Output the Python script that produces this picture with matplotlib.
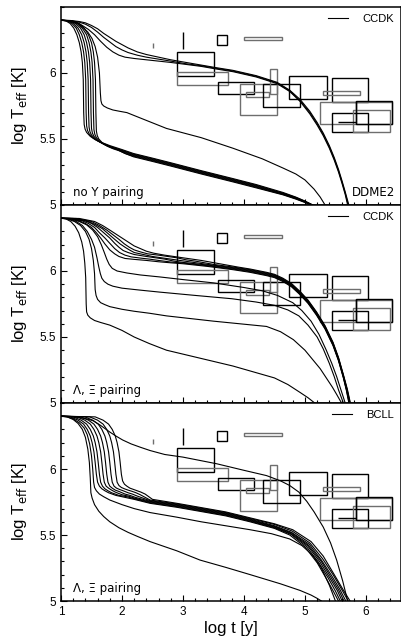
import matplotlib
matplotlib.use("Agg")
import matplotlib.pyplot as plt
from matplotlib.patches import Rectangle
from matplotlib.ticker import MultipleLocator

plt.rcParams['font.family'] = ['Liberation Sans', 'DejaVu Sans']

# ---- observed sources: log t range, log Teff range (same in every panel)
obs_t_lo = [2.91, 2.91, 3.57, 3.93, 4.04, 4.32, 4.42, 4.74, 5.44, 5.30, 5.24, 5.83, 5.44, 5.79, 3.56, 4.00, 2.51, 3.00, 5.55, 5.83]
obs_t_hi = [3.51, 3.74, 4.17, 4.54, 4.41, 4.92, 4.54, 5.36, 6.04, 5.91, 6.43, 6.43, 6.04, 6.39, 3.73, 4.62, 2.51, 3.00, 5.83, 5.83]
obs_T_lo = [5.98, 5.91, 5.84, 5.68, 5.82, 5.74, 5.84, 5.80, 5.78, 5.83, 5.61, 5.61, 5.55, 5.55, 6.21, 6.25, 6.19, 6.18, 5.63, 5.61]
obs_T_hi = [6.16, 6.01, 5.93, 5.92, 5.855, 5.92, 6.03, 5.98, 5.96, 5.86, 5.78, 5.79, 5.70, 5.72, 6.29, 6.27, 6.23, 6.31, 5.63, 5.79]
obs_grey = [False, True, False, True, True, False, True, False, False, True, True, False, False, True, False, True, True, False, False, False]

# ---- panel 1: DDME2, no hyperon pairing (CCDK)
noY_t = [
    [1.0, 1.15, 1.3, 1.4, 1.5, 1.6, 1.7, 1.8, 1.9, 2.0, 2.1, 2.25, 2.4, 2.6, 2.8, 3.05, 3.3, 3.55, 3.82, 4.2, 4.54, 4.75, 4.92, 5.08, 5.2, 5.3, 5.4, 5.48, 5.55, 5.61, 5.66, 5.72],
    [1.0, 1.15, 1.3, 1.4, 1.5, 1.6, 1.7, 1.8, 1.9, 2.0, 2.1, 2.25, 2.4, 2.6, 2.8, 3.05, 3.3, 3.55, 3.82, 4.2, 4.54, 4.75, 4.92, 5.08, 5.2, 5.3, 5.4, 5.48, 5.55, 5.61, 5.66, 5.71],
    [1.0, 1.15, 1.25, 1.35, 1.45, 1.55, 1.65, 1.75, 1.85, 1.95, 2.05, 2.2, 2.4, 2.6, 2.8, 3.05, 3.3, 3.55, 3.82, 4.2, 4.54, 4.75, 4.92, 5.08, 5.2, 5.3, 5.4, 5.48, 5.55, 5.61, 5.66, 5.70],
    [1.0, 1.08, 1.15, 1.21, 1.26, 1.30, 1.33, 1.35, 1.365, 1.372, 1.38, 1.395, 1.42, 1.48, 1.56, 1.66, 1.8, 2.0, 2.19, 2.5, 2.8, 3.3, 3.82, 4.2, 4.64, 4.85, 5.0, 5.13],
    [1.0, 1.1, 1.18, 1.25, 1.30, 1.34, 1.37, 1.39, 1.405, 1.412, 1.42, 1.435, 1.46, 1.52, 1.60, 1.70, 1.82, 2.0, 2.19, 2.5, 2.8, 3.3, 3.82, 4.2, 4.64, 4.85, 5.0, 5.125],
    [1.0, 1.12, 1.21, 1.28, 1.34, 1.38, 1.41, 1.43, 1.445, 1.452, 1.46, 1.475, 1.50, 1.56, 1.64, 1.74, 1.85, 2.0, 2.19, 2.5, 2.8, 3.3, 3.82, 4.2, 4.64, 4.85, 5.0, 5.12],
    [1.0, 1.14, 1.24, 1.32, 1.38, 1.42, 1.45, 1.47, 1.485, 1.492, 1.50, 1.515, 1.54, 1.60, 1.68, 1.78, 1.88, 2.0, 2.19, 2.5, 2.8, 3.3, 3.82, 4.2, 4.64, 4.85, 5.0, 5.115],
    [1.0, 1.16, 1.27, 1.35, 1.42, 1.46, 1.49, 1.51, 1.525, 1.532, 1.54, 1.555, 1.58, 1.64, 1.72, 1.82, 1.92, 2.05, 2.19, 2.5, 2.8, 3.3, 3.82, 4.2, 4.64, 4.85, 5.0, 5.11],
    [1.0, 1.18, 1.30, 1.38, 1.45, 1.50, 1.53, 1.55, 1.565, 1.572, 1.58, 1.595, 1.62, 1.68, 1.76, 1.86, 1.96, 2.08, 2.19, 2.5, 2.8, 3.3, 3.82, 4.2, 4.64, 4.85, 5.0, 5.105],
    [1.0, 1.12, 1.25, 1.35, 1.44, 1.51, 1.56, 1.60, 1.63, 1.645, 1.655, 1.67, 1.70, 1.76, 1.85, 1.96, 2.08, 2.35, 2.73, 3.3, 3.82, 4.3, 4.64, 4.85, 5.0, 5.15, 5.25, 5.33],
]
noY_T = [
    [6.40, 6.398, 6.39, 6.38, 6.36, 6.335, 6.30, 6.27, 6.24, 6.215, 6.19, 6.16, 6.14, 6.12, 6.10, 6.08, 6.06, 6.04, 6.02, 5.98, 5.93, 5.87, 5.80, 5.71, 5.625, 5.545, 5.45, 5.36, 5.27, 5.18, 5.10, 5.0],
    [6.40, 6.397, 6.385, 6.37, 6.345, 6.31, 6.27, 6.235, 6.20, 6.175, 6.155, 6.135, 6.12, 6.105, 6.09, 6.07, 6.055, 6.035, 6.015, 5.975, 5.925, 5.865, 5.79, 5.70, 5.615, 5.535, 5.44, 5.35, 5.26, 5.17, 5.09, 5.0],
    [6.40, 6.396, 6.385, 6.36, 6.33, 6.29, 6.24, 6.195, 6.16, 6.135, 6.12, 6.11, 6.10, 6.09, 6.08, 6.065, 6.05, 6.03, 6.01, 5.97, 5.92, 5.86, 5.785, 5.69, 5.605, 5.525, 5.43, 5.34, 5.25, 5.16, 5.08, 5.0],
    [6.40, 6.395, 6.375, 6.34, 6.29, 6.23, 6.16, 6.08, 5.95, 5.70, 5.61, 5.575, 5.55, 5.52, 5.495, 5.475, 5.45, 5.42, 5.39, 5.355, 5.32, 5.26, 5.20, 5.155, 5.095, 5.06, 5.03, 5.0],
    [6.40, 6.395, 6.375, 6.34, 6.29, 6.23, 6.16, 6.08, 5.95, 5.70, 5.60, 5.565, 5.54, 5.51, 5.485, 5.465, 5.44, 5.415, 5.385, 5.35, 5.315, 5.255, 5.195, 5.15, 5.09, 5.057, 5.028, 5.0],
    [6.40, 6.395, 6.375, 6.34, 6.29, 6.23, 6.16, 6.08, 5.95, 5.70, 5.59, 5.555, 5.53, 5.50, 5.475, 5.455, 5.435, 5.41, 5.38, 5.345, 5.31, 5.25, 5.19, 5.145, 5.087, 5.054, 5.026, 5.0],
    [6.40, 6.395, 6.375, 6.34, 6.29, 6.23, 6.16, 6.08, 5.95, 5.70, 5.58, 5.545, 5.52, 5.49, 5.465, 5.445, 5.43, 5.405, 5.375, 5.34, 5.305, 5.245, 5.185, 5.14, 5.083, 5.051, 5.024, 5.0],
    [6.40, 6.395, 6.375, 6.34, 6.29, 6.23, 6.16, 6.08, 5.95, 5.70, 5.57, 5.535, 5.51, 5.48, 5.455, 5.435, 5.42, 5.39, 5.37, 5.335, 5.30, 5.24, 5.18, 5.135, 5.08, 5.048, 5.021, 5.0],
    [6.40, 6.395, 6.375, 6.34, 6.29, 6.23, 6.16, 6.08, 5.95, 5.70, 5.56, 5.525, 5.50, 5.47, 5.445, 5.425, 5.41, 5.385, 5.365, 5.33, 5.295, 5.235, 5.175, 5.13, 5.077, 5.045, 5.019, 5.0],
    [6.40, 6.395, 6.38, 6.35, 6.31, 6.26, 6.20, 6.12, 6.0, 5.85, 5.79, 5.765, 5.75, 5.735, 5.72, 5.71, 5.70, 5.65, 5.58, 5.51, 5.43, 5.35, 5.28, 5.235, 5.19, 5.12, 5.06, 5.0],
]

# ---- panel 2: Lambda, Xi pairing (CCDK)
LXc_t = [
    [1.0, 1.15, 1.3, 1.4, 1.5, 1.58, 1.65, 1.72, 1.8, 1.88, 1.95, 2.05, 2.2, 2.4, 2.6, 2.8, 3.0, 3.4, 3.82, 4.1, 4.37, 4.5, 4.64, 4.78, 4.92, 5.05, 5.19, 5.33, 5.46, 5.55, 5.63, 5.68, 5.72],
    [1.0, 1.15, 1.35, 1.45, 1.55, 1.63, 1.72, 1.8, 1.88, 1.96, 2.05, 2.15, 2.3, 2.45, 2.6, 2.8, 3.0, 3.4, 3.82, 4.1, 4.37, 4.5, 4.64, 4.78, 4.92, 5.05, 5.19, 5.33, 5.46, 5.55, 5.63, 5.68, 5.725],
    [1.0, 1.2, 1.4, 1.5, 1.6, 1.7, 1.8, 1.88, 1.95, 2.02, 2.1, 2.2, 2.4, 2.55, 2.7, 2.85, 3.0, 3.4, 3.82, 4.1, 4.37, 4.5, 4.64, 4.78, 4.92, 5.05, 5.19, 5.33, 5.46, 5.55, 5.63, 5.685, 5.73],
    [1.0, 1.2, 1.45, 1.57, 1.68, 1.78, 1.88, 1.97, 2.05, 2.12, 2.2, 2.3, 2.5, 2.65, 2.8, 2.95, 3.1, 3.4, 3.82, 4.1, 4.37, 4.5, 4.64, 4.78, 4.92, 5.05, 5.19, 5.33, 5.46, 5.55, 5.63, 5.69, 5.735],
    [1.0, 1.25, 1.5, 1.63, 1.75, 1.85, 1.95, 2.04, 2.12, 2.2, 2.3, 2.42, 2.6, 2.75, 2.9, 3.05, 3.2, 3.5, 3.82, 4.1, 4.37, 4.5, 4.64, 4.78, 4.92, 5.05, 5.19, 5.33, 5.46, 5.55, 5.63, 5.69, 5.74],
    [1.0, 1.3, 1.55, 1.68, 1.8, 1.9, 2.0, 2.1, 2.2, 2.3, 2.4, 2.52, 2.7, 2.85, 3.0, 3.15, 3.3, 3.6, 3.9, 4.1, 4.37, 4.5, 4.64, 4.78, 4.92, 5.05, 5.19, 5.33, 5.46, 5.55, 5.63, 5.695, 5.745],
    [1.0, 1.15, 1.3, 1.42, 1.52, 1.6, 1.66, 1.71, 1.75, 1.79, 1.84, 1.92, 2.08, 2.3, 2.62, 3.0, 3.5, 4.0, 4.3, 4.55, 4.8, 4.95, 5.1, 5.23, 5.35, 5.44, 5.52, 5.59, 5.66],
    [1.0, 1.12, 1.25, 1.35, 1.43, 1.5, 1.55, 1.59, 1.62, 1.645, 1.67, 1.71, 1.77, 1.85, 2.0, 2.3, 2.62, 3.2, 3.8, 4.2, 4.5, 4.72, 4.9, 5.05, 5.2, 5.3, 5.4, 5.48, 5.55, 5.63],
    [1.0, 1.1, 1.22, 1.32, 1.40, 1.46, 1.50, 1.53, 1.55, 1.56, 1.575, 1.60, 1.65, 1.72, 1.8, 2.0, 2.2, 2.45, 2.73, 3.5, 4.37, 4.6, 4.81, 5.0, 5.25, 5.45, 5.52, 5.60],
    [1.0, 1.08, 1.16, 1.23, 1.29, 1.34, 1.37, 1.39, 1.405, 1.413, 1.42, 1.44, 1.48, 1.55, 1.65, 1.8, 2.0, 2.2, 2.45, 2.73, 3.82, 4.5, 4.72, 4.92, 5.05, 5.16],
]
LXc_T = [
    [6.40, 6.397, 6.38, 6.36, 6.33, 6.29, 6.25, 6.205, 6.16, 6.13, 6.11, 6.095, 6.088, 6.08, 6.07, 6.062, 6.055, 6.035, 6.01, 5.99, 5.965, 5.95, 5.92, 5.88, 5.82, 5.755, 5.665, 5.56, 5.435, 5.32, 5.19, 5.095, 5.0],
    [6.40, 6.398, 6.38, 6.36, 6.33, 6.29, 6.25, 6.21, 6.17, 6.14, 6.12, 6.107, 6.098, 6.09, 6.08, 6.068, 6.06, 6.04, 6.015, 5.995, 5.97, 5.955, 5.925, 5.885, 5.825, 5.76, 5.67, 5.565, 5.44, 5.325, 5.195, 5.10, 5.0],
    [6.40, 6.397, 6.38, 6.36, 6.33, 6.29, 6.25, 6.21, 6.18, 6.155, 6.14, 6.125, 6.11, 6.10, 6.09, 6.075, 6.065, 6.045, 6.02, 6.0, 5.975, 5.96, 5.93, 5.89, 5.83, 5.765, 5.675, 5.57, 5.445, 5.33, 5.20, 5.10, 5.0],
    [6.40, 6.398, 6.375, 6.35, 6.32, 6.28, 6.24, 6.205, 6.18, 6.16, 6.14, 6.13, 6.11, 6.10, 6.09, 6.08, 6.07, 6.05, 6.025, 6.005, 5.98, 5.965, 5.935, 5.895, 5.835, 5.77, 5.68, 5.575, 5.45, 5.335, 5.205, 5.10, 5.0],
    [6.40, 6.398, 6.375, 6.345, 6.31, 6.275, 6.24, 6.205, 6.18, 6.16, 6.145, 6.13, 6.12, 6.11, 6.10, 6.085, 6.075, 6.05, 6.03, 6.01, 5.985, 5.97, 5.94, 5.90, 5.84, 5.775, 5.685, 5.58, 5.455, 5.34, 5.21, 5.105, 5.0],
    [6.40, 6.398, 6.375, 6.345, 6.31, 6.28, 6.25, 6.22, 6.19, 6.17, 6.15, 6.135, 6.12, 6.11, 6.10, 6.09, 6.08, 6.055, 6.03, 6.015, 5.99, 5.975, 5.945, 5.905, 5.845, 5.78, 5.69, 5.585, 5.46, 5.345, 5.215, 5.105, 5.0],
    [6.40, 6.395, 6.375, 6.35, 6.31, 6.26, 6.20, 6.14, 6.09, 6.05, 6.02, 6.0, 5.985, 5.97, 5.955, 5.935, 5.91, 5.875, 5.85, 5.815, 5.76, 5.70, 5.62, 5.52, 5.40, 5.30, 5.20, 5.10, 5.0],
    [6.40, 6.395, 6.375, 6.345, 6.30, 6.24, 6.18, 6.10, 6.03, 5.98, 5.945, 5.92, 5.90, 5.885, 5.87, 5.855, 5.84, 5.815, 5.79, 5.765, 5.74, 5.705, 5.66, 5.59, 5.50, 5.41, 5.30, 5.20, 5.10, 5.0],
    [6.40, 6.395, 6.375, 6.345, 6.30, 6.24, 6.17, 6.08, 5.98, 5.86, 5.815, 5.785, 5.76, 5.745, 5.73, 5.71, 5.695, 5.68, 5.66, 5.62, 5.58, 5.54, 5.48, 5.40, 5.26, 5.12, 5.065, 5.0],
    [6.40, 6.395, 6.375, 6.34, 6.29, 6.22, 6.15, 6.06, 5.95, 5.75, 5.69, 5.665, 5.645, 5.625, 5.61, 5.59, 5.55, 5.50, 5.45, 5.40, 5.28, 5.19, 5.14, 5.08, 5.04, 5.0],
]

# ---- panel 3: Lambda, Xi pairing (BCLL)
LXb_t = [
    [1.0, 1.15, 1.3, 1.42, 1.53, 1.65, 1.8, 1.9, 2.01, 2.15, 2.3, 2.46, 2.7, 3.0, 3.55, 4.0, 4.37, 4.6, 4.75, 4.9, 5.03, 5.15, 5.3, 5.42, 5.52, 5.62, 5.70],
    [1.0, 1.15, 1.28, 1.37, 1.43, 1.48, 1.51, 1.54, 1.56, 1.58, 1.60, 1.63, 1.67, 1.72, 1.78, 1.9, 2.05, 2.2, 2.46, 2.9, 3.27, 3.7, 4.1, 4.5, 4.75, 5.0, 5.2, 5.35, 5.47, 5.55],
    [1.0, 1.2, 1.33, 1.42, 1.48, 1.53, 1.56, 1.59, 1.61, 1.63, 1.65, 1.68, 1.72, 1.77, 1.83, 1.95, 2.08, 2.2, 2.46, 2.9, 3.27, 3.7, 4.1, 4.5, 4.77, 5.02, 5.22, 5.38, 5.50, 5.58],
    [1.0, 1.26, 1.39, 1.48, 1.54, 1.59, 1.62, 1.65, 1.67, 1.69, 1.71, 1.74, 1.78, 1.83, 1.89, 2.0, 2.1, 2.2, 2.46, 2.9, 3.27, 3.7, 4.1, 4.5, 4.77, 5.04, 5.24, 5.40, 5.53, 5.61],
    [1.0, 1.32, 1.45, 1.54, 1.60, 1.65, 1.68, 1.71, 1.73, 1.75, 1.77, 1.80, 1.84, 1.89, 1.95, 2.05, 2.13, 2.22, 2.46, 2.9, 3.27, 3.7, 4.1, 4.5, 4.78, 5.05, 5.26, 5.42, 5.55, 5.64],
    [1.0, 1.39, 1.52, 1.61, 1.67, 1.72, 1.75, 1.78, 1.80, 1.82, 1.84, 1.87, 1.91, 1.96, 2.02, 2.1, 2.17, 2.25, 2.46, 2.9, 3.27, 3.7, 4.1, 4.5, 4.78, 5.07, 5.27, 5.44, 5.57, 5.67],
    [1.0, 1.47, 1.60, 1.69, 1.75, 1.80, 1.83, 1.86, 1.88, 1.90, 1.92, 1.95, 1.99, 2.04, 2.1, 2.17, 2.23, 2.3, 2.46, 2.9, 3.27, 3.7, 4.1, 4.5, 4.79, 5.08, 5.29, 5.46, 5.60, 5.71],
    [1.0, 1.56, 1.69, 1.78, 1.84, 1.89, 1.92, 1.95, 1.97, 1.99, 2.01, 2.04, 2.08, 2.13, 2.19, 2.25, 2.31, 2.38, 2.5, 2.9, 3.27, 3.7, 4.1, 4.5, 4.8, 5.1, 5.3, 5.48, 5.62, 5.74],
    [1.0, 1.1, 1.2, 1.3, 1.38, 1.43, 1.47, 1.50, 1.52, 1.535, 1.55, 1.58, 1.63, 1.70, 1.80, 2.0, 2.2, 2.46, 2.9, 3.3, 3.7, 4.1, 4.45, 4.75, 4.95, 5.12, 5.27, 5.4, 5.5],
    [1.0, 1.1, 1.2, 1.28, 1.35, 1.40, 1.44, 1.465, 1.48, 1.49, 1.51, 1.55, 1.62, 1.7, 1.8, 1.95, 2.1, 2.25, 2.46, 2.9, 3.28, 3.7, 4.1, 4.6, 4.92, 5.1, 5.2, 5.27],
]
LXb_T = [
    [6.40, 6.398, 6.39, 6.38, 6.365, 6.33, 6.28, 6.25, 6.22, 6.19, 6.165, 6.14, 6.11, 6.09, 6.04, 5.99, 5.95, 5.91, 5.875, 5.825, 5.755, 5.675, 5.56, 5.44, 5.31, 5.15, 5.0],
    [6.40, 6.395, 6.37, 6.34, 6.30, 6.25, 6.20, 6.13, 6.05, 5.96, 5.90, 5.87, 5.85, 5.835, 5.82, 5.80, 5.785, 5.77, 5.74, 5.71, 5.68, 5.645, 5.60, 5.55, 5.50, 5.41, 5.29, 5.17, 5.07, 5.0],
    [6.40, 6.395, 6.37, 6.34, 6.30, 6.25, 6.20, 6.13, 6.05, 5.96, 5.90, 5.87, 5.85, 5.835, 5.82, 5.80, 5.79, 5.775, 5.745, 5.715, 5.685, 5.65, 5.605, 5.555, 5.505, 5.415, 5.295, 5.175, 5.075, 5.0],
    [6.40, 6.395, 6.37, 6.34, 6.30, 6.25, 6.20, 6.13, 6.05, 5.96, 5.90, 5.87, 5.855, 5.84, 5.825, 5.805, 5.795, 5.78, 5.75, 5.72, 5.69, 5.655, 5.61, 5.56, 5.51, 5.42, 5.30, 5.18, 5.08, 5.0],
    [6.40, 6.395, 6.37, 6.34, 6.30, 6.25, 6.20, 6.13, 6.05, 5.96, 5.90, 5.87, 5.855, 5.84, 5.83, 5.81, 5.80, 5.785, 5.755, 5.725, 5.695, 5.66, 5.615, 5.565, 5.515, 5.425, 5.305, 5.185, 5.085, 5.0],
    [6.40, 6.395, 6.37, 6.34, 6.30, 6.25, 6.20, 6.13, 6.05, 5.96, 5.90, 5.87, 5.855, 5.845, 5.835, 5.82, 5.81, 5.795, 5.76, 5.73, 5.70, 5.665, 5.62, 5.57, 5.52, 5.43, 5.31, 5.19, 5.09, 5.0],
    [6.40, 6.395, 6.37, 6.34, 6.30, 6.25, 6.20, 6.13, 6.05, 5.96, 5.90, 5.875, 5.86, 5.85, 5.84, 5.83, 5.82, 5.805, 5.765, 5.735, 5.705, 5.67, 5.625, 5.58, 5.53, 5.44, 5.32, 5.20, 5.09, 5.0],
    [6.40, 6.395, 6.37, 6.34, 6.30, 6.25, 6.20, 6.13, 6.05, 5.96, 5.91, 5.885, 5.87, 5.855, 5.845, 5.835, 5.825, 5.81, 5.77, 5.74, 5.71, 5.675, 5.63, 5.585, 5.54, 5.45, 5.34, 5.20, 5.09, 5.0],
    [6.40, 6.395, 6.38, 6.35, 6.31, 6.26, 6.19, 6.10, 6.0, 5.90, 5.86, 5.835, 5.81, 5.79, 5.765, 5.73, 5.70, 5.67, 5.635, 5.60, 5.57, 5.54, 5.51, 5.47, 5.42, 5.35, 5.25, 5.12, 5.0],
    [6.40, 6.395, 6.375, 6.345, 6.30, 6.24, 6.15, 6.05, 5.93, 5.82, 5.78, 5.73, 5.68, 5.64, 5.60, 5.555, 5.52, 5.49, 5.45, 5.38, 5.31, 5.255, 5.20, 5.13, 5.08, 5.045, 5.02, 5.0],
]

panel_t = [noY_t, LXc_t, LXb_t]
panel_T = [noY_T, LXc_T, LXb_T]
legend_labels = ['CCDK', 'CCDK', 'BCLL']
panel_notes = ['no Y pairing', '\u039b, \u039e pairing', '\u039b, \u039e pairing']

fig = plt.figure(figsize=(4.02, 6.37), dpi=100)
left, width = 61 / 402, 340 / 402
h = 198 / 637
bottom0 = 1 - 601 / 637

for i in range(3):
    ax = fig.add_axes([left, bottom0 + (2 - i) * h, width, h])
    for tt, TT in zip(panel_t[i], panel_T[i]):
        ax.plot(tt, TT, color='black', lw=0.8)

    for k in range(len(obs_t_lo)):
        col = '#6e6e6e' if obs_grey[k] else 'black'
        ax.add_patch(Rectangle((obs_t_lo[k], obs_T_lo[k]),
                               obs_t_hi[k] - obs_t_lo[k], obs_T_hi[k] - obs_T_lo[k],
                               fill=False, edgecolor=col, lw=1.0))

    ax.plot([], [], color='black', lw=0.8, label=legend_labels[i])
    ax.legend(loc='upper right', frameon=False, fontsize=8, handlelength=1.8,
              borderaxespad=0.2, handletextpad=1.3)

    ax.text(0.035, 0.065, panel_notes[i], transform=ax.transAxes, fontsize=8.5,
            family='DejaVu Sans', va='center', ha='left')
    if i == 0:
        ax.text(0.984, 0.065, 'DDME2', transform=ax.transAxes, fontsize=8.5,
                family='DejaVu Sans', va='center', ha='right')

    ax.set_xlim(1, 6.575)
    ax.set_ylim(5, 6.5)
    ax.set_yticks([5, 5.5, 6])
    ax.set_yticklabels(['5', '5.5', '6'])
    ax.set_xticks([1, 2, 3, 4, 5, 6])
    ax.xaxis.set_minor_locator(MultipleLocator(0.2))
    ax.yaxis.set_minor_locator(MultipleLocator(0.1))
    ax.tick_params(which='both', direction='in', top=False, right=False, labelsize=8.5, width=0.8)
    ax.tick_params(which='major', length=4.5)
    ax.tick_params(which='minor', length=2.5)
    for s in ax.spines.values():
        s.set_linewidth(1.1)
    ax.set_ylabel(r'log T$_{\rm eff}$ [K]', fontsize=12, labelpad=8)
    if i < 2:
        ax.set_xticklabels([])
    else:
        ax.set_xlabel('log t [y]', fontsize=12, labelpad=2)

fig.savefig('out.png', dpi=100)
